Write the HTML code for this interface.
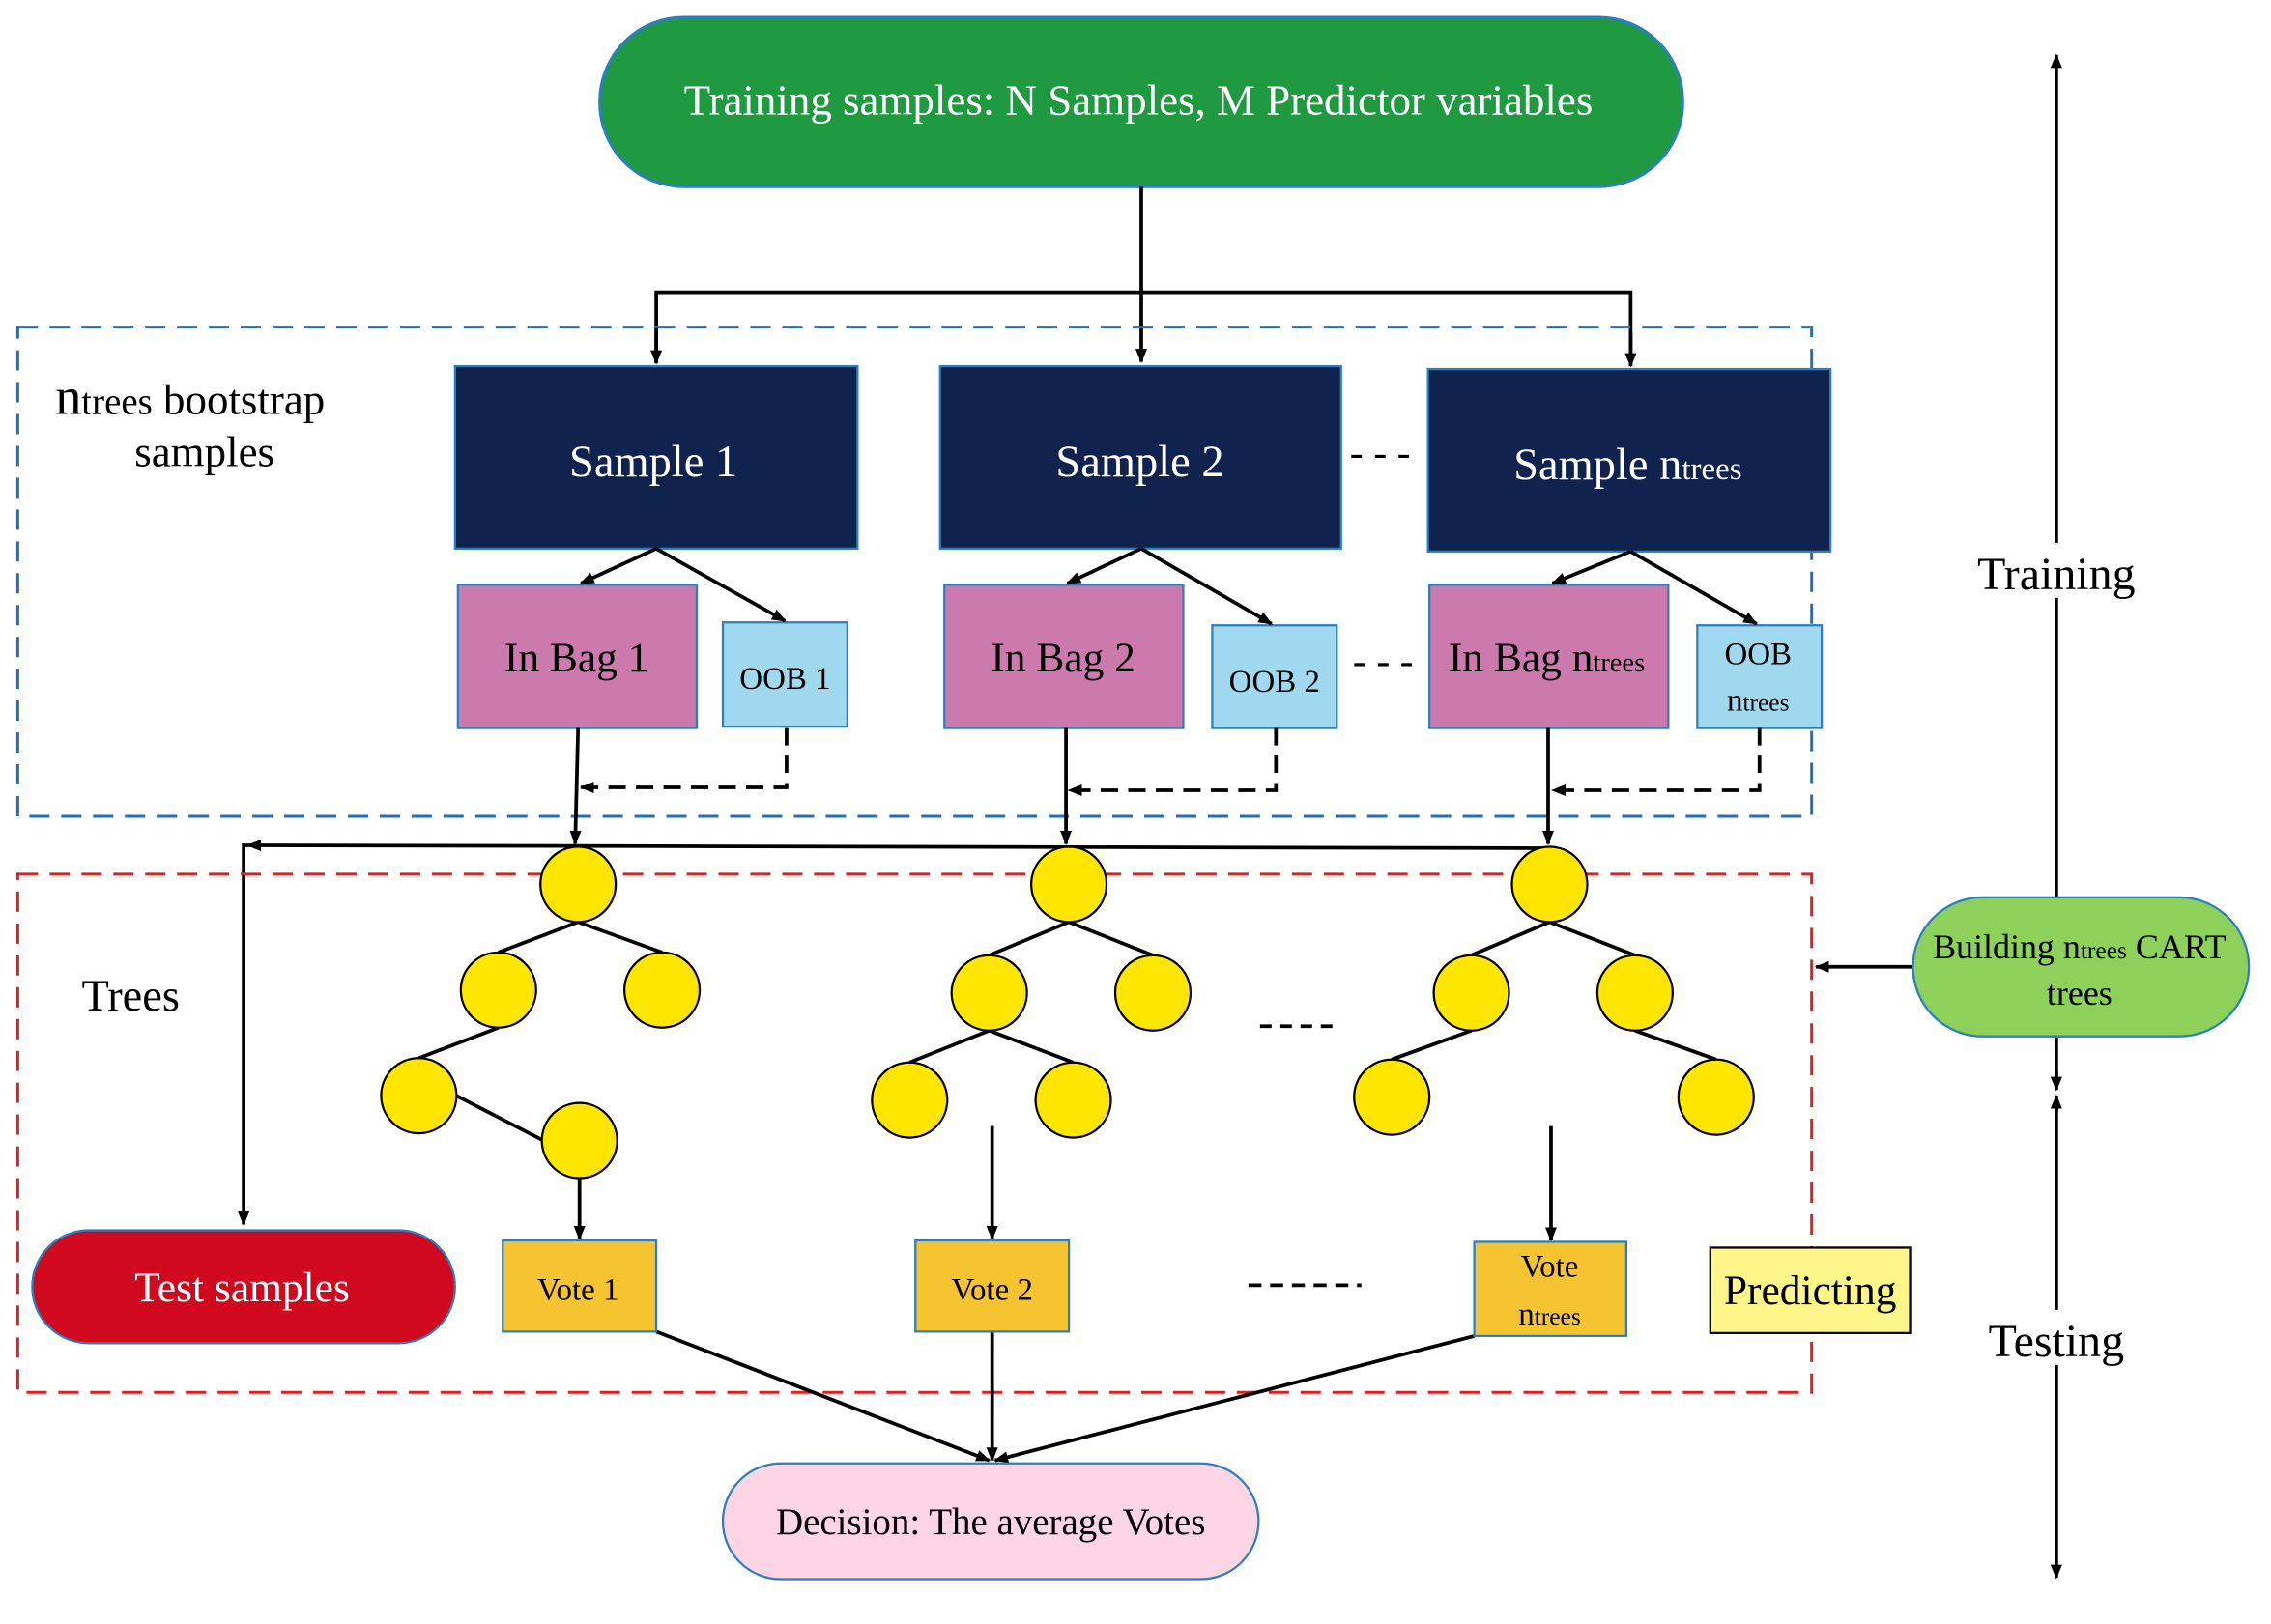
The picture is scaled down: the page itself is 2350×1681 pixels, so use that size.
<!DOCTYPE html>
<html><head><meta charset="utf-8"><style>
html,body{margin:0;padding:0;background:#fff;}
svg{display:block;}
text{font-family:"Liberation Serif",serif;}
</style></head><body>
<svg width="2350" height="1681" viewBox="0 0 1568 1122" xmlns="http://www.w3.org/2000/svg">
<defs>
<marker id="a" markerWidth="10" markerHeight="10" refX="9" refY="5" orient="auto" markerUnits="userSpaceOnUse"><path d="M0,1 L10,5 L0,9 z" fill="#000"/></marker>
</defs>
<rect x="0" y="0" width="1568" height="1122" fill="#fff"/>
<rect x="414" y="12" width="748" height="117" rx="58" fill="#1f9a40" stroke="#2a7fc0" stroke-width="2"/>
<text x="786" y="79" font-size="30" fill="#fff" text-anchor="middle">Training samples: N Samples, M Predictor variables</text>
<g stroke="#000" stroke-width="2.5" fill="none">
<line x1="788" y1="129" x2="788" y2="250" marker-end="url(#a)"/>
<polyline points="453,250 453,202 1126,202 1126,252" />
<line x1="453" y1="230" x2="453" y2="251" marker-end="url(#a)"/>
<line x1="1126" y1="230" x2="1126" y2="253" marker-end="url(#a)"/>
</g>
<rect x="12" y="226" width="1239" height="338" fill="none" stroke="#1f6fc0" stroke-width="2" stroke-dasharray="14,8"/>
<text x="38" y="286" font-size="36">n<tspan font-size="26">trees</tspan><tspan font-size="30"> bootstrap</tspan></text>
<text x="141" y="322" font-size="30" text-anchor="middle">samples</text>
<g fill="#10224e" stroke="#2a7fc0" stroke-width="1.5">
<rect x="314" y="253" width="278" height="126"/>
<rect x="649" y="253" width="277" height="126"/>
<rect x="986" y="255" width="278" height="126"/>
</g>
<g fill="#fff" font-size="31" text-anchor="middle">
<text x="451" y="329">Sample 1</text>
<text x="787" y="329">Sample 2</text>
<text x="1124" y="331">Sample n<tspan font-size="22">trees</tspan></text>
</g>
<text x="953" y="322" font-size="28" text-anchor="middle">- - -</text>
<g fill="#cc7aad" stroke="#2a7fc0" stroke-width="1.5">
<rect x="316" y="404" width="165" height="99"/>
<rect x="652" y="404" width="165" height="99"/>
<rect x="987" y="404" width="165" height="99"/>
</g>
<g fill="#a0d8ef" stroke="#2a7fc0" stroke-width="1.5">
<rect x="499" y="430" width="86" height="72"/>
<rect x="837" y="432" width="86" height="71"/>
<rect x="1172" y="432" width="86" height="71"/>
</g>
<g font-size="29" text-anchor="middle">
<text x="398" y="464">In Bag 1</text>
<text x="734" y="464">In Bag 2</text>
<text x="1068" y="464">In Bag n<tspan font-size="19">trees</tspan></text>
</g>
<g font-size="22" text-anchor="middle">
<text x="542" y="476">OOB 1</text>
<text x="880" y="478">OOB 2</text>
<text x="1214" y="459">OOB</text>
<text x="1214" y="491">n<tspan font-size="17">trees</tspan></text>
</g>
<text x="955" y="466" font-size="28" text-anchor="middle">- - -</text>
<g stroke="#000" stroke-width="2.5" fill="none">
<line x1="453" y1="379" x2="401" y2="403" marker-end="url(#a)"/>
<line x1="453" y1="379" x2="542" y2="429" marker-end="url(#a)"/>
<line x1="788" y1="379" x2="737" y2="403" marker-end="url(#a)"/>
<line x1="788" y1="379" x2="878" y2="431" marker-end="url(#a)"/>
<line x1="1126" y1="381" x2="1072" y2="403" marker-end="url(#a)"/>
<line x1="1126" y1="381" x2="1213" y2="431" marker-end="url(#a)"/>
<line x1="399" y1="503" x2="397" y2="583" marker-end="url(#a)"/>
<line x1="736" y1="503" x2="736" y2="583" marker-end="url(#a)"/>
<line x1="1069" y1="503" x2="1069" y2="583" marker-end="url(#a)"/>
<polyline points="543,503 543,544 401,544" stroke-dasharray="12,7" marker-end="url(#a)"/>
<polyline points="881,503 881,546 738,546" stroke-dasharray="12,7" marker-end="url(#a)"/>
<polyline points="1215,503 1215,546 1072,546" stroke-dasharray="12,7" marker-end="url(#a)"/>
<line x1="1069" y1="586" x2="171" y2="584" marker-end="url(#a)"/>
<polyline points="171,584 168,584 168,846" marker-end="url(#a)"/>
</g>
<rect x="12" y="604" width="1239" height="358" fill="none" stroke="#e02020" stroke-width="2" stroke-dasharray="14,8"/>
<text x="90" y="698" font-size="31" text-anchor="middle">Trees</text>
<g stroke="#000" stroke-width="2.5">
<line x1="399" y1="637" x2="344" y2="658"/><line x1="399" y1="637" x2="457" y2="658"/>
<line x1="344" y1="710" x2="289" y2="731"/><line x1="315" y1="757" x2="375" y2="788"/>
<line x1="738" y1="637" x2="683" y2="660"/><line x1="738" y1="637" x2="796" y2="660"/>
<line x1="683" y1="712" x2="628" y2="734"/><line x1="683" y1="712" x2="741" y2="734"/>
<line x1="1070" y1="637" x2="1016" y2="660"/><line x1="1070" y1="637" x2="1129" y2="660"/>
<line x1="1016" y1="712" x2="961" y2="732"/><line x1="1129" y1="712" x2="1185" y2="732"/>
</g>
<g fill="#ffe600" stroke="#000" stroke-width="1.5">
<circle cx="399" cy="611" r="26"/><circle cx="344" cy="684" r="26"/><circle cx="457" cy="684" r="26"/><circle cx="289" cy="757" r="26"/><circle cx="400" cy="788" r="26"/>
<circle cx="738" cy="611" r="26"/><circle cx="683" cy="686" r="26"/><circle cx="796" cy="686" r="26"/><circle cx="628" cy="760" r="26"/><circle cx="741" cy="760" r="26"/>
<circle cx="1070" cy="611" r="26"/><circle cx="1016" cy="686" r="26"/><circle cx="1129" cy="686" r="26"/><circle cx="961" cy="758" r="26"/><circle cx="1185" cy="758" r="26"/>
</g>
<g stroke="#000" stroke-width="2.5" fill="none">
<line x1="400" y1="814" x2="400" y2="856" marker-end="url(#a)"/>
<line x1="685" y1="778" x2="685" y2="856" marker-end="url(#a)"/>
<line x1="1071" y1="778" x2="1071" y2="857" marker-end="url(#a)"/>
<line x1="870" y1="709" x2="925" y2="709" stroke-dasharray="8,6"/>
<line x1="862" y1="888" x2="940" y2="888" stroke-dasharray="9,6"/>
<line x1="453" y1="920" x2="683" y2="1009" marker-end="url(#a)"/>
<line x1="685" y1="920" x2="685" y2="1009" marker-end="url(#a)"/>
<line x1="1018" y1="923" x2="687" y2="1009" marker-end="url(#a)"/>
</g>
<g fill="#f6c431" stroke="#2a7fc0" stroke-width="1.5">
<rect x="347" y="857" width="106" height="63"/>
<rect x="632" y="857" width="106" height="63"/>
<rect x="1018" y="858" width="105" height="65"/>
</g>
<g font-size="22" text-anchor="middle">
<text x="399" y="898">Vote 1</text>
<text x="685" y="898">Vote 2</text>
<text x="1070" y="882">Vote</text>
<text x="1070" y="915">n<tspan font-size="17">trees</tspan></text>
</g>
<rect x="1181" y="862" width="138" height="59" fill="#fff68a" stroke="#000" stroke-width="1.5"/>
<text x="1250" y="901" font-size="29" text-anchor="middle">Predicting</text>
<rect x="22" y="850" width="292" height="78" rx="39" fill="#d0091f" stroke="#2a7fc0" stroke-width="1.5"/>
<text x="167" y="899" font-size="29" fill="#fff" text-anchor="middle">Test samples</text>
<rect x="499" y="1011" width="370" height="80" rx="40" fill="#fdd5e5" stroke="#2a7fc0" stroke-width="1.5"/>
<text x="684" y="1060" font-size="26" text-anchor="middle">Decision: The average Votes</text>
<g stroke="#000" stroke-width="2.5" fill="none">
<line x1="1420" y1="753" x2="1420" y2="38" marker-end="url(#a)"/>
<line x1="1420" y1="740" x2="1420" y2="753" marker-end="url(#a)"/>
<line x1="1420" y1="768" x2="1420" y2="757" marker-end="url(#a)"/>
<line x1="1420" y1="760" x2="1420" y2="1090" marker-end="url(#a)"/>
<line x1="1321" y1="668" x2="1254" y2="668" marker-end="url(#a)"/>
</g>
<rect x="1356" y="375" width="128" height="38" fill="#fff"/>
<text x="1420" y="407" font-size="32" text-anchor="middle">Training</text>
<rect x="1362" y="905" width="116" height="38" fill="#fff"/>
<text x="1420" y="937" font-size="32" text-anchor="middle">Testing</text>
<rect x="1321" y="620" width="232" height="96" rx="48" fill="#8ed15a" stroke="#2a7fc0" stroke-width="1.5"/>
<text x="1436" y="662" font-size="24" text-anchor="middle">Building n<tspan font-size="17">trees</tspan> CART</text>
<text x="1436" y="694" font-size="24" text-anchor="middle">trees</text>
</svg>
</body></html>
